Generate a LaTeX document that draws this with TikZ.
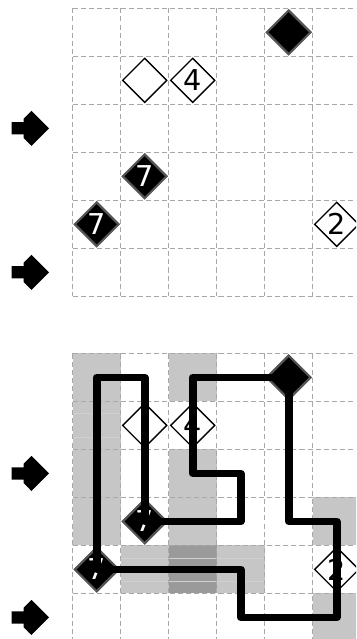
\documentclass[tikz,border=0pt]{standalone}
\usepackage{fontspec}
\setmainfont{DejaVu Sans}
\usetikzlibrary{shapes.geometric}
\definecolor{gridc}{HTML}{A8A8A8}
\definecolor{shadec}{HTML}{C6C6C6}
\definecolor{shadedark}{HTML}{9A9A9A}
\definecolor{seamc}{HTML}{D0D0D0}
\definecolor{rimc}{HTML}{555555}
\begin{document}
\begin{tikzpicture}[x=1cm,y=1cm,
  gridline/.style={gridc, line width=0.9pt, dash pattern=on 3pt off 1.8pt},
  wdia/.style={diamond, aspect=1, draw=black, fill=white, line width=0.8pt,
    inner sep=0pt, minimum size=0.93cm, font=\fontsize{17}{19}\selectfont},
  bdia/.style={wdia, fill=black, draw=rimc, line width=1.3pt, text=white},
  loopline/.style={line width=4.6pt, line join=round, line cap=round},
  lightcell/.style={fill=shadec},
  darkcell/.style={fill=shadedark},
  seam/.style={seamc, line width=0.5pt},
  entryarrow/.pic={
    \fill[black] (0,0) -- (-0.365,0.365) -- (-0.53,0.2) -- (-0.53,0.128)
      -- (-0.78,0.128) -- (-0.78,-0.128) -- (-0.53,-0.128) -- (-0.53,-0.2)
      -- (-0.365,-0.365) -- cycle;
  }
]
\path[use as bounding box] (-1.5146,0.1729) rectangle (5.902,-13.139);
\clip (-1.5146,0.1729) rectangle (5.902,-13.139);

% ---------- top puzzle ----------
\begin{scope}
  \foreach \i in {0,...,6} {
    \draw[gridline] (\i,0) -- (\i,-6);
    \draw[gridline] (0,-\i) -- (6,-\i);
  }
  \node[bdia] (t40) at (4.5,-0.5) {};
  \node[wdia] (t11) at (1.5,-1.5) {};
  \node[wdia] (t21) at (2.5,-1.5) {4};
  \node[bdia] (t13) at (1.5,-3.5) {7};
  \node[bdia] (t04) at (0.5,-4.5) {7};
  \node[wdia] (t54) at (5.5,-4.5) {2};
  \pic (ta1) at (-0.494,-2.5) {entryarrow};
  \pic (ta2) at (-0.494,-5.5) {entryarrow};
\end{scope}

% ---------- bottom puzzle (solved) ----------
\begin{scope}[yshift=-7.19cm]
  \foreach \c/\r in {0/0,2/0,0/1,0/2,2/2,0/3,2/3,5/3,1/4,3/4,5/5}
    \fill[lightcell] (\c,-\r) rectangle (\c+1,-\r-1);
  \fill[darkcell] (2,-4) rectangle (3,-5);
  \draw[seam] (0,-1.25) -- (1,-1.25);
  \draw[seam] (0,-1.75) -- (1,-1.75);
  \draw[seam] (1,-4.28) -- (4,-4.28);
  \draw[seam] (1,-4.74) -- (4,-4.74);
  \foreach \i in {0,...,6} {
    \draw[gridline] (\i,0) -- (\i,-6);
    \draw[gridline] (0,-\i) -- (6,-\i);
  }
  \node[bdia] (b40) at (4.5,-0.5) {};
  \node[wdia] (b11) at (1.5,-1.5) {};
  \node[wdia] (b21) at (2.5,-1.5) {4};
  \node[bdia] (b13) at (1.5,-3.5) {7};
  \node[bdia] (b04) at (0.5,-4.5) {7};
  \node[wdia] (b54) at (5.5,-4.5) {2};
  \coordinate (p00) at (0.5,-0.5);
  \coordinate (p10) at (1.5,-0.5);
  \coordinate (p33) at (3.5,-3.5);
  \coordinate (p32) at (3.5,-2.5);
  \coordinate (p22) at (2.5,-2.5);
  \coordinate (p20) at (2.5,-0.5);
  \coordinate (p43) at (4.5,-3.5);
  \coordinate (p53) at (5.5,-3.5);
  \coordinate (p55) at (5.5,-5.5);
  \coordinate (p35) at (3.5,-5.5);
  \coordinate (p34) at (3.5,-4.5);
  \draw[loopline] (b04.center) -- (p00) -- (p10) -- (b13.center) -- (p33)
    -- (p32) -- (p22) -- (p20) -- (b40.center) -- (p43) -- (p53) -- (p55)
    -- (p35) -- (p34) -- cycle;
  \pic (ba1) at (-0.494,-2.5) {entryarrow};
  \pic (ba2) at (-0.494,-5.5) {entryarrow};
\end{scope}
\end{tikzpicture}
\end{document}
